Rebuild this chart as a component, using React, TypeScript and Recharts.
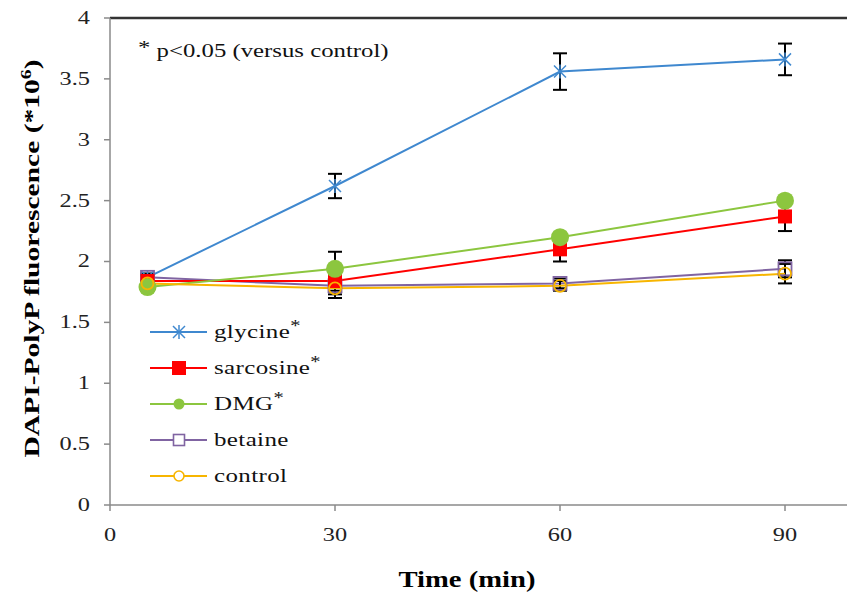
import React from "react";
import { LineChart, Line, XAxis, YAxis, ErrorBar, ReferenceLine, Label } from "recharts";

const times = [5, 30, 60, 90];
const glycine = [1.87, 2.62, 3.56, 3.66];
const glycineErr = [0.03, 0.1, 0.15, 0.13];
const sarcosine = [1.84, 1.84, 2.1, 2.37];
const sarcosineErr = [0.04, 0.08, 0.1, 0.12];
const dmg = [1.79, 1.94, 2.2, 2.5];
const dmgErr = [0.03, 0.14, 0.03, 0.03];
const betaine = [1.87, 1.8, 1.82, 1.94];
const betaineErr = [0.03, 0.07, 0.04, 0.07];
const control = [1.82, 1.78, 1.8, 1.9];
const controlErr = [0.03, 0.08, 0.04, 0.08];

const yTicks = [0, 0.5, 1, 1.5, 2, 2.5, 3, 3.5, 4];
const xTicks = [0, 30, 60, 90];

const data = times.map((t, i) => ({
  time: t,
  glycine: glycine[i],
  glycineErr: glycineErr[i],
  sarcosine: sarcosine[i],
  sarcosineErr: sarcosineErr[i],
  dmg: dmg[i],
  dmgErr: dmgErr[i],
  betaine: betaine[i],
  betaineErr: betaineErr[i],
  control: control[i],
  controlErr: controlErr[i],
}));

const COLORS = {
  glycine: "#3f88cf",
  sarcosine: "#ff0000",
  dmg: "#8cc63f",
  betaine: "#8064a2",
  control: "#f7b500",
};

const FONT = "'Liberation Serif', 'Times New Roman', serif";
const STRETCH = 1.28;

function Marker({ kind, cx, cy, color }: { kind: string; cx: number; cy: number; color: string }) {
  if (kind === "star") {
    const r = 6;
    return (
      <g stroke={color} strokeWidth={1.5}>
        <line x1={cx - r} y1={cy - r} x2={cx + r} y2={cy + r} />
        <line x1={cx - r} y1={cy + r} x2={cx + r} y2={cy - r} />
        <line x1={cx} y1={cy - r - 1} x2={cx} y2={cy + r + 1} />
      </g>
    );
  }
  if (kind === "fsquare") return <rect x={cx - 7} y={cy - 7} width={14} height={14} fill={color} />;
  if (kind === "fcircle") return <circle cx={cx} cy={cy} r={9} fill={color} />;
  if (kind === "osquare")
    return <rect x={cx - 6.5} y={cy - 6.5} width={13} height={13} fill="none" stroke={color} strokeWidth={1.8} />;
  return <circle cx={cx} cy={cy} r={6} fill="none" stroke={color} strokeWidth={1.8} />;
}

const dotFor = (kind: string, color: string) => (props: any) => (
  <Marker key={`${kind}-${props.index}`} kind={kind} cx={props.cx} cy={props.cy} color={color} />
);

// stretched serif tick, like the wide glyphs of the original
const makeTick = (anchor: "end" | "middle", dy: number) => (props: any) => {
  const { x, y, payload } = props;
  return (
    <text
      x={x}
      y={y}
      dy={dy}
      textAnchor={anchor}
      transform={`translate(${x} ${y}) scale(${STRETCH} 1) translate(${-x} ${-y})`}
      style={{ fontFamily: FONT, fontSize: 19, fill: "#222" }}
    >
      {payload.value}
    </text>
  );
};

const legendItems = [
  { label: "glycine", star: true, kind: "star", color: COLORS.glycine },
  { label: "sarcosine", star: true, kind: "fsquare", color: COLORS.sarcosine },
  { label: "DMG", star: true, kind: "fcircle", color: COLORS.dmg },
  { label: "betaine", star: false, kind: "osquare", color: COLORS.betaine },
  { label: "control", star: false, kind: "ocircle", color: COLORS.control },
];

function LegendBox() {
  return (
    <div style={{ position: "absolute", left: 150, top: 314, fontFamily: FONT, pointerEvents: "none" }}>
      {legendItems.map((it) => (
        <div key={it.label} style={{ display: "flex", alignItems: "center", height: 36 }}>
          <svg width={64} height={20}>
            <line x1={0} y1={10} x2={57} y2={10} stroke={it.color} strokeWidth={2} />
            {it.kind === "fcircle" ? (
              <circle cx={29} cy={10} r={5.5} fill={it.color} />
            ) : it.kind === "fsquare" ? (
              <rect x={22} y={3} width={14} height={14} fill={it.color} />
            ) : it.kind === "star" ? (
              <Marker kind="star" cx={29} cy={10} color={it.color} />
            ) : it.kind === "osquare" ? (
              <rect x={23.5} y={4.5} width={11} height={11} fill="white" stroke={it.color} strokeWidth={1.6} />
            ) : (
              <circle cx={29} cy={10} r={5} fill="white" stroke={it.color} strokeWidth={1.6} />
            )}
          </svg>
          <span
            style={{
              display: "inline-block",
              fontSize: 19.5,
              color: "#111",
              letterSpacing: 0.3,
              whiteSpace: "nowrap",
              transform: `scaleX(${STRETCH})`,
              transformOrigin: "left center",
            }}
          >
            {it.label}
            {it.star && <sup style={{ fontSize: 16, lineHeight: 0, letterSpacing: 0 }}>*</sup>}
          </span>
        </div>
      ))}
    </div>
  );
}

export default function App() {
  return (
    <div
      style={{
        position: "absolute",
        left: 0,
        top: 0,
        width: 847,
        height: 598,
        overflow: "hidden",
        background: "#fff",
        fontFamily: FONT,
      }}
    >
      <LineChart
        width={900}
        height={598}
        data={data}
        margin={{ top: 18, right: 40, left: 0, bottom: 0 }}
        style={{ fontFamily: FONT }}
      >
        <XAxis
          dataKey="time"
          type="number"
          domain={[0, 100]}
          ticks={xTicks}
          height={93}
          tick={makeTick("middle", 28)}
          tickSize={6}
          stroke="#8a8a8a"
          strokeWidth={1.5}
        >
          <Label
            content={(props: any) => {
              const vb = props.viewBox || { x: 110, y: 505, width: 750, height: 93 };
              return (
                <text
                  x={vb.x + vb.width / 2 - 18}
                  y={vb.y + vb.height - 11}
                  textAnchor="middle"
                  textLength={137}
                  lengthAdjust="spacingAndGlyphs"
                  style={{ fontFamily: FONT, fontSize: 23, fontWeight: "bold", fill: "#000" }}
                >
                  Time (min)
                </text>
              );
            }}
          />
        </XAxis>
        <YAxis
          type="number"
          domain={[0, 4]}
          ticks={yTicks}
          width={110}
          tick={makeTick("end", 6)}
          tickSize={6}
          tickMargin={14}
          stroke="#8a8a8a"
          strokeWidth={1.5}
          interval={0}
        >
          <Label
            content={(props: any) => {
              const vb = props.viewBox || { x: 0, y: 18, width: 110, height: 487 };
              const cy = vb.y + vb.height / 2 - 3;
              return (
                <text
                  x={39}
                  y={cy}
                  transform={`rotate(-90 39 ${cy})`}
                  textAnchor="middle"
                  textLength={398}
                  lengthAdjust="spacingAndGlyphs"
                  style={{ fontFamily: FONT, fontSize: 21, fontWeight: "bold", fill: "#000" }}
                >
                  DAPI-PolyP fluorescence (*10
                  <tspan dy={-8} fontSize={14}>6</tspan>
                  <tspan dy={8}>)</tspan>
                </text>
              );
            }}
          />
        </YAxis>
        <ReferenceLine y={4} stroke="#333" strokeWidth={2.5} ifOverflow="extendDomain" />
        <Line
          dataKey="glycine"
          stroke={COLORS.glycine}
          strokeWidth={2}
          dot={dotFor("star", COLORS.glycine)}
          isAnimationActive={false}
        >
          <ErrorBar dataKey="glycineErr" width={7} stroke="#000" strokeWidth={2} direction="y" />
        </Line>
        <Line
          dataKey="betaine"
          stroke={COLORS.betaine}
          strokeWidth={2}
          dot={dotFor("osquare", COLORS.betaine)}
          isAnimationActive={false}
        >
          <ErrorBar dataKey="betaineErr" width={7} stroke="#000" strokeWidth={2} direction="y" />
        </Line>
        <Line
          dataKey="sarcosine"
          stroke={COLORS.sarcosine}
          strokeWidth={2}
          dot={dotFor("fsquare", COLORS.sarcosine)}
          isAnimationActive={false}
        >
          <ErrorBar dataKey="sarcosineErr" width={7} stroke="#000" strokeWidth={2} direction="y" />
        </Line>
        <Line
          dataKey="dmg"
          stroke={COLORS.dmg}
          strokeWidth={2}
          dot={dotFor("fcircle", COLORS.dmg)}
          isAnimationActive={false}
        >
          <ErrorBar dataKey="dmgErr" width={7} stroke="#000" strokeWidth={2} direction="y" />
        </Line>
        <Line
          dataKey="control"
          stroke={COLORS.control}
          strokeWidth={2}
          dot={dotFor("ocircle", COLORS.control)}
          isAnimationActive={false}
        >
          <ErrorBar dataKey="controlErr" width={7} stroke="#000" strokeWidth={2} direction="y" />
        </Line>
      </LineChart>
      <LegendBox />
      <div
        style={{
          position: "absolute",
          left: 138,
          top: 40,
          fontFamily: FONT,
          fontSize: 19.5,
          color: "#111",
          whiteSpace: "nowrap",
          transform: "scaleX(1.27)",
          transformOrigin: "left center",
          pointerEvents: "none",
        }}
      >
        <span style={{ position: "relative", top: -3 }}>*</span> p&lt;0.05 (versus control)
      </div>
    </div>
  );
}
